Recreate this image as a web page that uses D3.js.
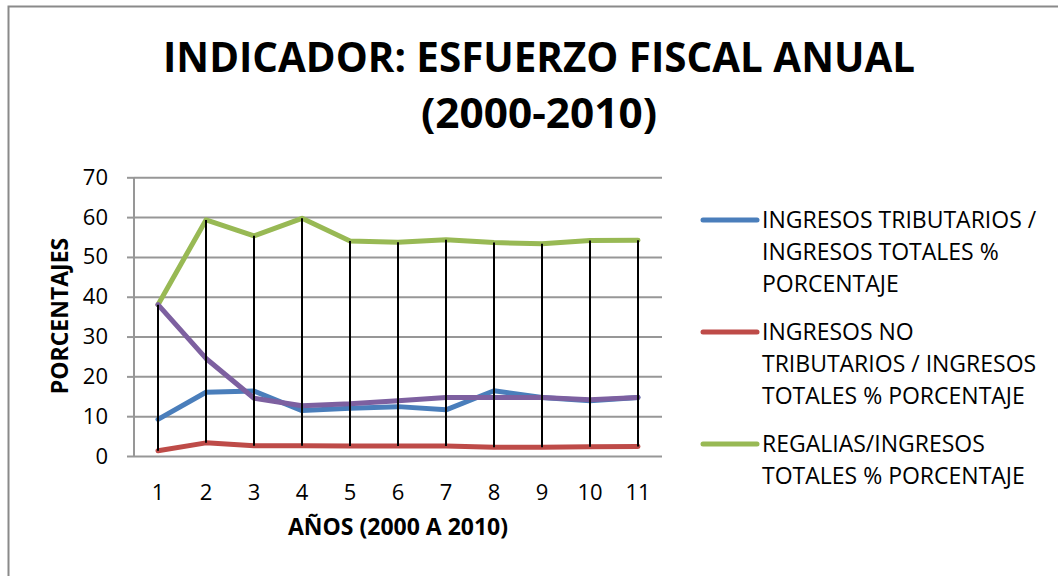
<!DOCTYPE html>
<html>
<head>
  <style>
  body { margin: 0; background: #fff; }
  #chart svg { font-family: "Open Sans", sans-serif; }
  </style>
</head>
<body>
  <script src="https://d3js.org/d3.v7.min.js"></script>
  <div id="chart"></div>
  <script>
    // datos
    const years = ['1', '2', '3', '4', '5', '6', '7', '8', '9', '10', '11'];
    const tributarios = [9.2, 16.0, 16.3, 11.4, 12.0, 12.4, 11.6, 16.4, 14.7, 13.9, 14.7];
    const noTributarios = [1.3, 3.3, 2.6, 2.6, 2.5, 2.5, 2.5, 2.2, 2.2, 2.3, 2.4];
    const regalias = [38.0, 59.3, 55.3, 59.7, 54.0, 53.7, 54.3, 53.6, 53.3, 54.1, 54.2];
    const otros = [38.0, 24.5, 14.5, 12.6, 13.1, 13.9, 14.7, 14.7, 14.7, 14.1, 14.7];
    const yTicks = [0, 10, 20, 30, 40, 50, 60, 70];

    const series = [
      {name: ['INGRESOS TRIBUTARIOS /', 'INGRESOS TOTALES %', 'PORCENTAJE'], values: tributarios, color: '#4a7ebb', legend: true},
      {name: ['INGRESOS NO', 'TRIBUTARIOS / INGRESOS', 'TOTALES % PORCENTAJE'], values: noTributarios, color: '#be4b48', legend: true},
      {name: ['REGALIAS/INGRESOS', 'TOTALES % PORCENTAJE'], values: regalias, color: '#98b954', legend: true},
      {name: [], values: otros, color: '#7d60a0', legend: false}
    ];

    const width = 1058, height = 576;
    const plot = {left: 134, right: 662, top: 177.3, bottom: 456};

    const svg = d3.select('#chart').append('svg')
      .attr('width', width)
      .attr('height', height);

    // marco
    svg.append('rect')
      .attr('x', 8.5).attr('y', 6.5)
      .attr('width', 1100).attr('height', 700)
      .attr('fill', 'none')
      .attr('stroke', '#8a8a8a')
      .attr('stroke-width', 2);

    const x = d3.scaleBand().domain(years).range([plot.left, plot.right]);
    const y = d3.scaleLinear().domain([0, 70]).range([plot.bottom, plot.top]);
    const cx = d => x(d) + x.bandwidth() / 2;

    // titulo
    const title = svg.append('g')
      .style('font-weight', 'bold')
      .style('font-size', '42px')
      .attr('text-anchor', 'middle')
      .attr('fill', '#000');
    title.append('text').attr('x', 539).attr('y', 72)
      .attr('textLength', 752).attr('lengthAdjust', 'spacingAndGlyphs')
      .text('INDICADOR: ESFUERZO FISCAL ANUAL');
    title.append('text').attr('x', 539).attr('y', 128)
      .attr('textLength', 236).attr('lengthAdjust', 'spacingAndGlyphs')
      .text('(2000-2010)');

    // lineas de cuadricula
    svg.append('g')
      .attr('transform', `translate(${plot.left},0)`)
      .call(d3.axisLeft(y).tickValues(yTicks).tickSize(-(plot.right - plot.left)).tickFormat(''))
      .call(g => g.select('.domain').remove())
      .call(g => g.selectAll('line').attr('stroke', '#979797').attr('stroke-width', 2));

    // eje y
    const yAxis = svg.append('g')
      .attr('transform', `translate(${plot.left},0)`)
      .call(d3.axisLeft(y).tickValues(yTicks).tickSize(7).tickPadding(19))
      .call(g => g.select('.domain').attr('stroke', '#979797').attr('stroke-width', 2)
        .attr('d', `M0,${plot.top}V${plot.bottom}`));
    yAxis.selectAll('line').attr('stroke', '#979797').attr('stroke-width', 2);
    yAxis.selectAll('text')
      .style('font-size', '22px')
      .style('font-family', '"Open Sans", sans-serif')
      .attr('fill', '#000');

    // eje x
    const xAxis = svg.append('g')
      .attr('transform', `translate(0,${plot.bottom})`)
      .call(d3.axisBottom(x).tickSize(0).tickPadding(28))
      .call(g => g.select('.domain').remove());
    xAxis.selectAll('text')
      .style('font-size', '22px')
      .style('font-family', '"Open Sans", sans-serif')
      .attr('fill', '#000');

    // titulos de ejes
    svg.append('text')
      .attr('transform', 'translate(68,316) rotate(-90)')
      .attr('text-anchor', 'middle')
      .style('font-weight', 'bold')
      .style('font-size', '23px')
      .text('PORCENTAJES');
    svg.append('text')
      .attr('x', 398).attr('y', 535)
      .attr('text-anchor', 'middle')
      .style('font-weight', 'bold')
      .style('font-size', '23px')
      .text('AÑOS (2000 A 2010)');

    // series
    const line = d3.line()
      .x((d, i) => cx(years[i]))
      .y(d => y(d));

    svg.append('g').selectAll('path')
      .data(series)
      .join('path')
      .attr('d', d => line(d.values))
      .attr('fill', 'none')
      .attr('stroke', d => d.color)
      .attr('stroke-width', 5)
      .attr('stroke-linejoin', 'round')
      .attr('stroke-linecap', 'round');

    // lineas de proyeccion (maximo a minimo)
    svg.append('g').selectAll('line')
      .data(years)
      .join('line')
      .attr('x1', d => cx(d)).attr('x2', d => cx(d))
      .attr('y1', (d, i) => y(d3.max(series, s => s.values[i])))
      .attr('y2', (d, i) => y(d3.min(series, s => s.values[i])))
      .attr('stroke', '#000')
      .attr('stroke-width', 2);

    // leyenda
    const legend = svg.append('g').selectAll('g')
      .data(series.filter(s => s.legend))
      .join('g')
      .attr('transform', (d, i) => `translate(703,${220 + i * 112})`);
    legend.append('line')
      .attr('x1', 0).attr('x2', 54)
      .attr('stroke', d => d.color)
      .attr('stroke-width', 5)
      .attr('stroke-linecap', 'round');
    legend.each(function(d) {
      d3.select(this).selectAll('text')
        .data(d.name)
        .join('text')
        .attr('x', 59)
        .attr('y', (t, j) => 8 + j * 32)
        .style('font-size', '23px')
        .attr('fill', '#000')
        .text(t => t);
    });
  </script>
</body>
</html>
